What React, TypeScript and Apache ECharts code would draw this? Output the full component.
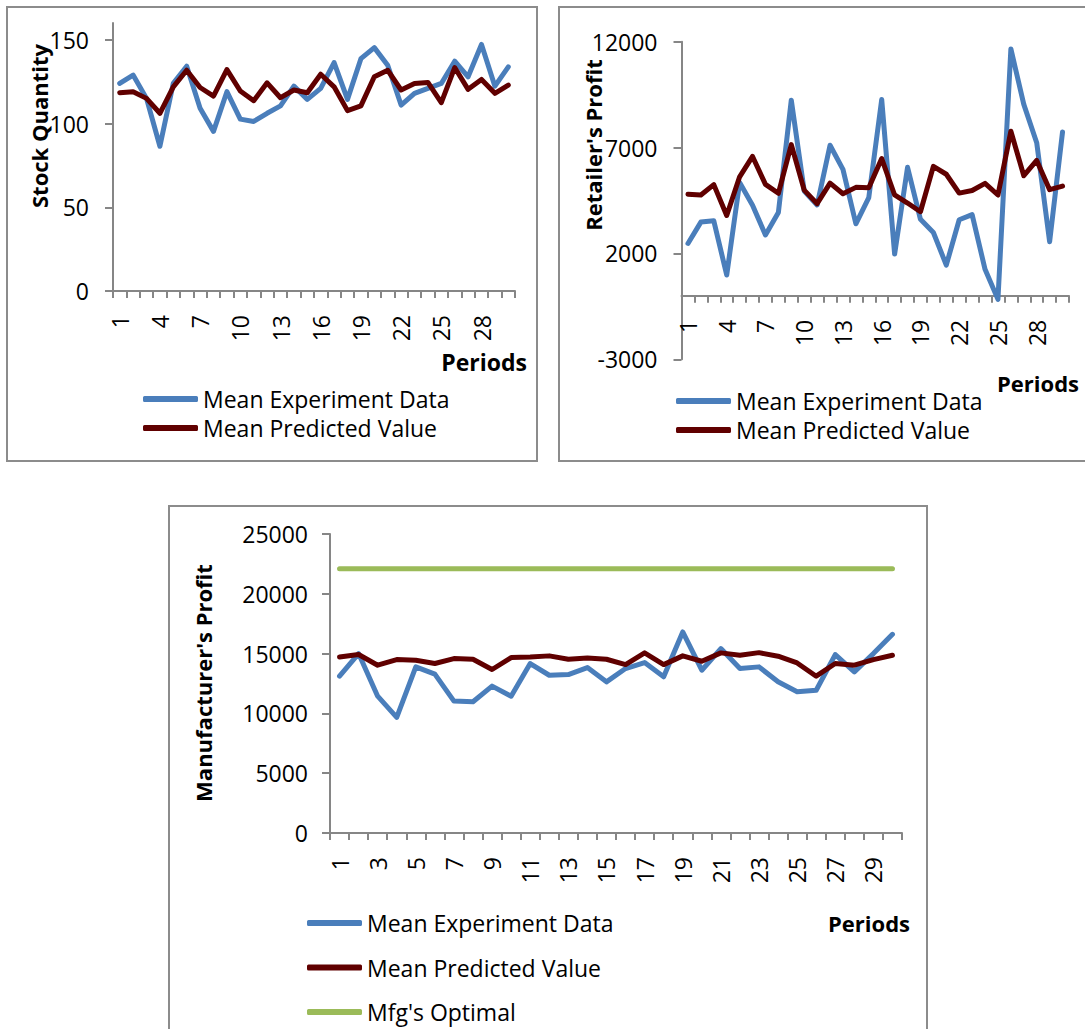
import React, { useEffect, useRef } from 'react';
import * as echarts from 'echarts';

// ---------------- data ----------------
const periods = ['1', '2', '3', '4', '5', '6', '7', '8', '9', '10', '11', '12', '13', '14', '15',
  '16', '17', '18', '19', '20', '21', '22', '23', '24', '25', '26', '27', '28', '29', '30'];

const expName = 'Mean Experiment Data';
const predName = 'Mean Predicted Value';
const optName = "Mfg's Optimal";

const stockExperiment = [123.9, 128.9, 115, 86.4, 124, 134.2, 109.1, 95.3, 119, 102.6, 101.2, 106.1, 110.5, 122.3, 114.4,
  121, 136.4, 114.4, 138.7, 145.3, 134.8, 111, 118, 121, 123.9, 137.2, 127.9, 147.2, 122.3, 133.8];
const stockPredicted = [118.4, 119, 115, 106.1, 121.9, 131.8, 121.5, 116.4, 132.2, 119.4, 113.6, 124.3, 115.4, 120, 118.4,
  129.4, 121.9, 107.7, 110.5, 127.9, 131.8, 120, 123.9, 124.5, 112.5, 133.4, 120.4, 126.3, 118, 122.9];

const retailerExperiment = [2470, 3480, 3540, 980, 5350, 4280, 2870, 3930, 9240, 4950, 4290, 7110, 5970, 3400, 4640,
  9270, 1970, 6070, 3610, 2990, 1450, 3590, 3830, 1250, -170, 11660, 9040, 7230, 2550, 7740];
const retailerPredicted = [4800, 4760, 5250, 3790, 5620, 6580, 5260, 4840, 7140, 4990, 4350, 5320, 4820, 5120, 5100,
  6480, 4760, 4380, 3970, 6110, 5740, 4850, 4970, 5310, 4760, 7770, 5670, 6390, 5010, 5180];

const manufacturerExperiment = [13110, 15000, 11440, 9670, 13890, 13280, 11030, 10970, 12280, 11440, 14170, 13190, 13250, 13830, 12640,
  13750, 14250, 13060, 16810, 13610, 15420, 13750, 13890, 12640, 11810, 11940, 14920, 13470, 15000, 16610];
const manufacturerPredicted = [14720, 14920, 14030, 14500, 14440, 14170, 14580, 14530, 13670, 14670, 14720, 14810, 14530, 14640, 14530,
  14080, 15060, 14080, 14810, 14360, 15060, 14860, 15080, 14780, 14220, 13110, 14170, 14030, 14500, 14860];
const mfgOptimal = [22100, 22100, 22100, 22100, 22100, 22100, 22100, 22100, 22100, 22100, 22100, 22100, 22100, 22100, 22100,
  22100, 22100, 22100, 22100, 22100, 22100, 22100, 22100, 22100, 22100, 22100, 22100, 22100, 22100, 22100];

const stockTicks = [0, 50, 100, 150];

// ---------------- styles ----------------
const FONT = '"Open Sans", sans-serif';
const BLUE = '#4A7EBB';
const RED = '#600000';
const GREEN = '#9BBB59';
const AXIS = '#868686';
const BOX = '#8C8C8C';

const plainNumber = (v: number) => String(v);

function xAxisCfg(gridIndex: number, labelInterval: number, margin: number, offset = 0) {
  return {
    type: 'category',
    gridIndex,
    data: periods,
    boundaryGap: true,
    offset,
    axisLine: { show: true, onZero: false, lineStyle: { color: AXIS, width: 2 } },
    axisTick: { show: true, interval: 0, length: 7, inside: false, lineStyle: { color: AXIS, width: 2 } },
    axisLabel: { interval: labelInterval, rotate: 90, margin, color: '#000', fontSize: 23, fontFamily: FONT },
    splitLine: { show: false },
  };
}

function yAxisCfg(gridIndex: number, min: number, max: number, interval: number, margin: number, extra: any = {}) {
  return {
    type: 'value',
    gridIndex,
    min,
    max,
    interval,
    axisLine: { show: true, onZero: false, lineStyle: { color: AXIS, width: 2 } },
    axisTick: { show: true, length: 8, lineStyle: { color: AXIS, width: 2 }, ...(extra.axisTick || {}) },
    axisLabel: {
      margin,
      color: '#000',
      fontSize: 23,
      fontFamily: FONT,
      formatter: plainNumber,
      ...(extra.axisLabel || {}),
    },
    splitLine: { show: false },
  };
}

function lineSeries(name: string, data: number[], color: string, idx: number) {
  return {
    type: 'line',
    name,
    data,
    xAxisIndex: idx,
    yAxisIndex: idx,
    symbol: 'none',
    showSymbol: false,
    itemStyle: { color },
    lineStyle: { color, width: 5, cap: 'round', join: 'round' },
    emphasis: { disabled: true },
  };
}

function legendCfg(left: number, top: number, gap: number, names: [string, string][]) {
  return {
    orient: 'vertical',
    left,
    top,
    itemWidth: 55,
    itemHeight: 6,
    itemGap: gap,
    icon: 'roundRect',
    selectedMode: false,
    padding: 0,
    textStyle: { fontSize: 23, fontFamily: FONT, color: '#000', lineHeight: 24 },
    data: names.map(([name, color]) => ({ name, itemStyle: { color } })),
  };
}

function boxRect(x: number, y: number, w: number, h: number) {
  return {
    type: 'rect',
    silent: true,
    shape: { x, y, width: w, height: h },
    style: { fill: 'none', stroke: BOX, lineWidth: 2 },
  };
}

function vTitle(text: string, x: number, y: number) {
  return {
    type: 'text',
    silent: true,
    x,
    y,
    rotation: Math.PI / 2,
    style: {
      text,
      fill: '#000',
      fontSize: 22,
      fontWeight: 'bold',
      fontFamily: FONT,
      align: 'center',
      verticalAlign: 'middle',
      textAlign: 'center',
      textVerticalAlign: 'middle',
    },
  };
}

function periodsLabel(x: number, y: number, size: number) {
  return {
    type: 'text',
    silent: true,
    x,
    y,
    style: {
      text: 'Periods',
      fill: '#000',
      fontSize: size,
      fontWeight: 'bold',
      fontFamily: FONT,
      align: 'right',
      verticalAlign: 'middle',
      textAlign: 'right',
      textVerticalAlign: 'middle',
    },
  };
}

export default function App() {
  const ref = useRef<HTMLDivElement>(null);

  useEffect(() => {
    if (!ref.current) return;
    const chart = echarts.init(ref.current, undefined, { renderer: 'svg' });

    // retailer grid: zero line sits 12000/15000 of the way down the plot
    const g2Top = 41.7;
    const g2Height = 317.6;
    const zeroOffset = g2Height * (3000 / 15000);

    const option: any = {
      animation: false,
      backgroundColor: '#ffffff',
      textStyle: { fontFamily: FONT },
      grid: [
        { left: 113, top: 23, width: 402, height: 268, containLabel: false },
        { left: 681.5, top: g2Top, width: 387.5, height: g2Height, containLabel: false },
        { left: 330, top: 534, width: 572, height: 299, containLabel: false },
      ],
      xAxis: [xAxisCfg(0, 2, 24), xAxisCfg(1, 2, 24, -zeroOffset), xAxisCfg(2, 1, 24)],
      yAxis: [
        yAxisCfg(0, 0, 160, 50, 24, {
          axisTick: { customValues: stockTicks },
          axisLabel: { customValues: stockTicks },
        }),
        yAxisCfg(1, -3000, 12000, 5000, 24),
        yAxisCfg(2, 0, 25000, 5000, 22),
      ],
      legend: [
        legendCfg(143, 387, 5, [[expName, BLUE], [predName, RED]]),
        legendCfg(676, 389, 5, [[expName, BLUE], [predName, RED]]),
        legendCfg(307, 911, 20.5, [[expName, BLUE], [predName, RED], [optName, GREEN]]),
      ],
      series: [
        lineSeries(expName, stockExperiment, BLUE, 0),
        lineSeries(predName, stockPredicted, RED, 0),
        lineSeries(expName, retailerExperiment, BLUE, 1),
        lineSeries(predName, retailerPredicted, RED, 1),
        lineSeries(expName, manufacturerExperiment, BLUE, 2),
        lineSeries(predName, manufacturerPredicted, RED, 2),
        lineSeries(optName, mfgOptimal, GREEN, 2),
      ],
      graphic: [
        boxRect(7, 7, 530, 454),
        boxRect(559, 7, 540, 454),
        boxRect(169, 506, 758, 540),
        vTitle('Stock Quantity', 39, 126),
        vTitle("Retailer's Profit", 593, 145),
        vTitle("Manufacturer's Profit", 203, 683),
        periodsLabel(527, 362, 23),
        periodsLabel(1079, 383, 22),
        periodsLabel(910, 923, 22),
      ],
    };
    chart.setOption(option);
    return () => {
      chart.dispose();
    };
  }, []);

  return (
    <div
      ref={ref}
      style={{ position: 'absolute', left: 0, top: 0, width: 1085, height: 1029, background: '#fff' }}
    />
  );
}
